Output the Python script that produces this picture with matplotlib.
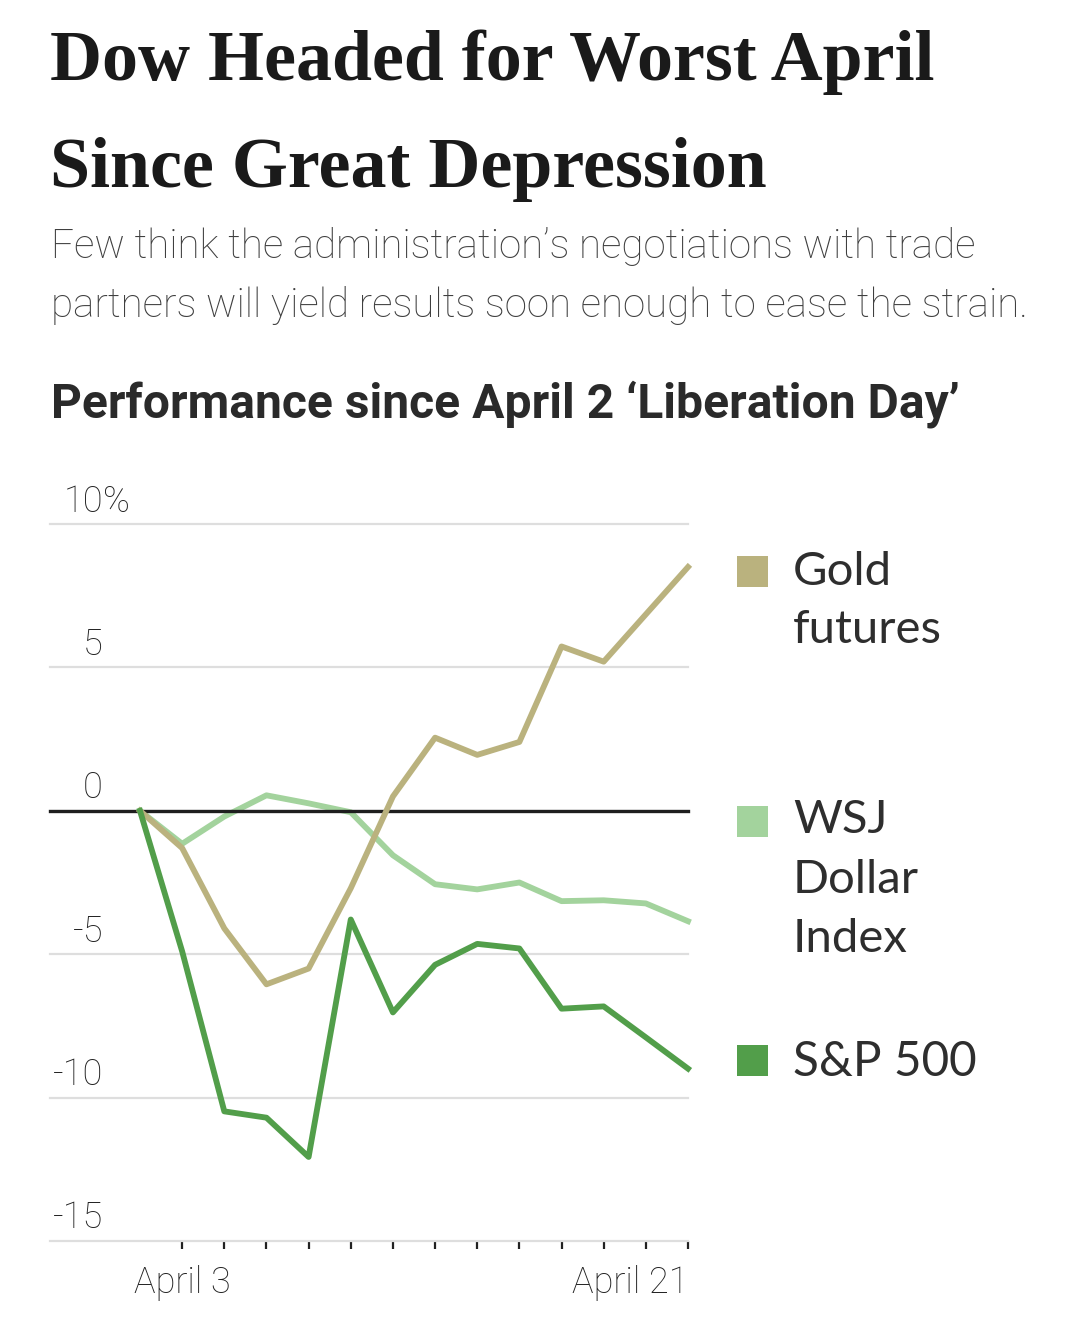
import numpy as np
import matplotlib
matplotlib.use("Agg")
import matplotlib.pyplot as plt
from matplotlib.patches import Rectangle
from matplotlib import transforms, font_manager

# Data (% change since April 2)
days = ["April 2", "April 3", "April 4", "April 7", "April 8", "April 9", "April 10",
        "April 11", "April 14", "April 15", "April 16", "April 17", "April 18", "April 21"]
gold = [0, -1.3, -4.1, -6.05, -5.5, -2.7, 0.5, 2.55, 1.95, 2.4, 5.73, 5.2, 6.85, 8.5]
dollar = [0, -1.15, -0.2, 0.54, 0.26, -0.05, -1.55, -2.56, -2.74, -2.5, -3.15, -3.12, -3.23, -3.85]
sp500 = [0, -4.9, -10.48, -10.7, -12.07, -3.79, -7.03, -5.37, -4.64, -4.8, -6.9, -6.82, -7.9, -8.99]

yticks = [10, 5, 0, -5, -10, -15]
ytick_labels = ["10", "5", "0", "-5", "-10", "-15"]

series_names = [["Gold", "futures"], ["WSJ", "Dollar", "Index"], ["S&P 500"]]
colors = ["#bab27e", "#a3d39d", "#529e4a"]

# narrow font for the axis labels if one is around
installed = {f.name for f in font_manager.fontManager.ttflist}
narrow = "Liberation Sans Narrow" if "Liberation Sans Narrow" in installed else "Roboto"
narrow_kw = dict(family=narrow, weight="normal" if narrow != "Roboto" else "light")

W, H = 1080, 1320
fig = plt.figure(figsize=(W / 100, H / 100), dpi=100)
fig.patch.set_facecolor("white")


def fx(px):
    return px / W


def fy(py):
    return 1 - py / H


def fit_width(t, target):
    r = fig.canvas.get_renderer()
    w = t.get_window_extent(r).width
    t.set_fontsize(t.get_fontsize() * target / w)
    return t.get_fontsize()


# Headline
serif = dict(family="Liberation Serif", weight="bold", color="#1a1a1a")
t1 = fig.text(fx(50), fy(80), "Dow Headed for Worst April", va="baseline", fontsize=50, **serif)
size = fit_width(t1, 885)
fig.text(fx(50), fy(187), "Since Great Depression", va="baseline", fontsize=size, **serif)

# Subtitle
sub = dict(family="Roboto", weight="light", color="#3f3f3f")
s2 = fig.text(fx(51), fy(317), "partners will yield results soon enough to ease the strain.",
              va="baseline", fontsize=24, **sub)
size = fit_width(s2, 977)
fig.text(fx(51), fy(258), "Few think the administration\u2019s negotiations with trade",
         va="baseline", fontsize=size, **sub)

# Chart heading
h = fig.text(fx(51), fy(417), "Performance since April 2 \u2018Liberation Day\u2019",
             va="baseline", fontsize=28, family="Roboto", weight="bold", color="#2a2a2a")
fit_width(h, 908)

# Axes
top, bottom, left, right = 524, 1241, 50, 688
ax = fig.add_axes([fx(left), fy(bottom), fx(right - left), (bottom - top) / H])
x = np.arange(len(days))
ax.set_xlim(-(140 - left) / ((right - 140) / (len(days) - 1)), len(days) - 1)
ax.set_ylim(-15, 10)

for s in ax.spines.values():
    s.set_visible(False)

ax.set_yticks(yticks)
ax.tick_params(axis="y", length=0, labelleft=False)
ax.yaxis.grid(True, color="#dedede", lw=1.6)
for gl in ax.get_ygridlines():
    gl.set_clip_on(False)
ax.set_axisbelow(True)
ax.axhline(0, color="#1e1e1e", lw=2.4, zorder=2.5, clip_on=False)

ax.plot(x, dollar, color=colors[1], lw=4.2, zorder=2, clip_on=False, solid_joinstyle="round")
ax.plot(x, gold, color=colors[0], lw=4.2, zorder=3, clip_on=False, solid_joinstyle="round")
ax.plot(x, sp500, color=colors[2], lw=4.2, zorder=4, clip_on=False, solid_joinstyle="round")

# x ticks for every weekday, labels only at the ends
ax.set_xticks(x[1:])
xlabels = [""] * (len(days) - 1)
xlabels[0] = days[1]
xlabels[-1] = days[-1]
tick_size = 28 if narrow != "Roboto" else 26
ax.set_xticklabels(xlabels, fontsize=tick_size, color="#222222", **narrow_kw)
ax.get_xticklabels()[-1].set_ha("right")
ax.tick_params(axis="x", length=6, width=1.6, color="#222222", pad=11)

# y labels sitting above their gridlines, right-aligned
trans = transforms.blended_transform_factory(fig.transFigure, ax.transData)
lift = transforms.ScaledTranslation(0, 9 / 72, fig.dpi_scale_trans)
for v, lab in zip(yticks, ytick_labels):
    t = ax.text(fx(103), v, lab, transform=trans + lift, ha="right", va="baseline",
                fontsize=tick_size, color="#222222", **narrow_kw)
    if v == yticks[0]:
        ax.annotate("%", xy=(1, 0), xycoords=t, ha="left", va="bottom",
                    fontsize=tick_size, color="#222222", **narrow_kw)

# Legend at the right
legend_sq = [556, 806, 1045]
legend_base = [[585, 643], [833, 893, 952], [1076]]
leg_size = None
for names, c, sq, bases in zip(series_names, colors, legend_sq, legend_base):
    fig.add_artist(Rectangle((fx(737), fy(sq + 31)), 31 / W, 31 / H,
                             transform=fig.transFigure, color=c, lw=0))
    for name, b in zip(names, bases):
        t = fig.text(fx(793), fy(b), name, va="baseline", family="Lato",
                     fontsize=34, color="#2e2e2e")
        if name == "S&P 500":
            leg_size = t

fit_width(leg_size, 184)

fig.savefig("out.png", dpi=100, facecolor="white")
